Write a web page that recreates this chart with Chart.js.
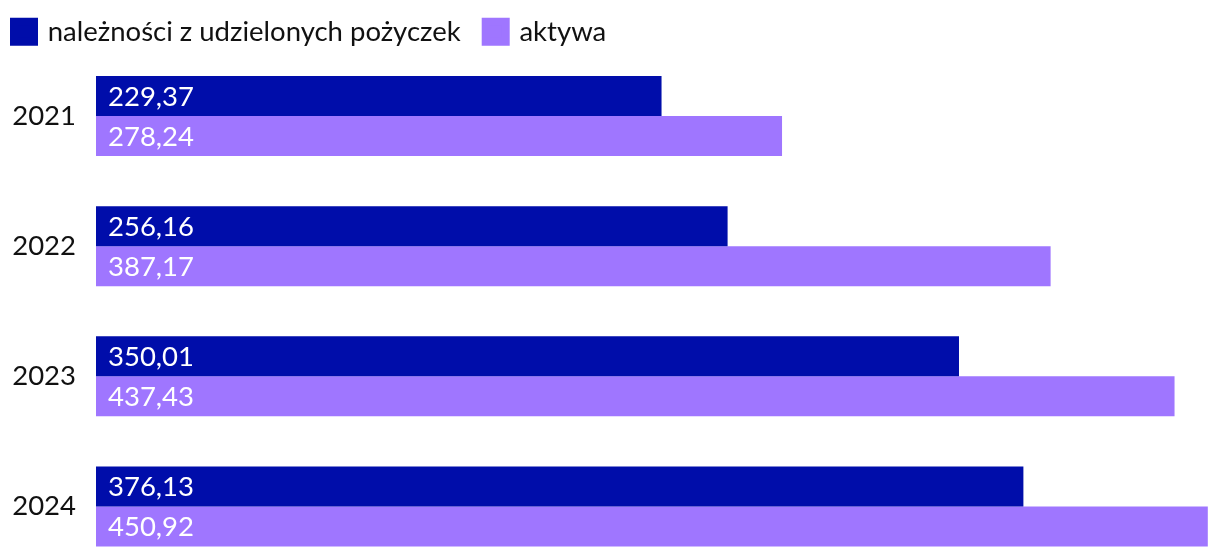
<!DOCTYPE html>
<html>
<head>
<meta charset="utf-8">
<script src="https://cdn.jsdelivr.net/npm/chart.js@4"></script>
<style>
html,body{margin:0;padding:0;background:#fff;overflow:hidden;width:1220px;height:558px;}
canvas{display:block;}
</style>
</head>
<body>
<canvas id="c" width="1220" height="608"></canvas>
<script>
const categories = ['2021', '2022', '2023', '2024'];
const seriesNames = ['należności z udzielonych pożyczek', 'aktywa'];
const loans = [229.37, 256.16, 350.01, 376.13];
const assets = [278.24, 387.17, 437.43, 450.92];
const colors = ['#000DAA', '#9F76FF'];

const FONT = 'Lato, "Open Sans", sans-serif';

const valueLabels = {
  id: 'valueLabels',
  afterDatasetsDraw(chart) {
    const ctx = chart.ctx;
    ctx.save();
    ctx.font = '27.5px ' + FONT;
    ctx.fillStyle = '#ffffff';
    ctx.textAlign = 'left';
    ctx.textBaseline = 'middle';
    chart.data.datasets.forEach((ds, di) => {
      const meta = chart.getDatasetMeta(di);
      meta.data.forEach((bar, i) => {
        const v = ds.data[i];
        const txt = v.toFixed(2).replace('.', ',');
        ctx.fillText(txt, bar.base + 12, bar.y + 1);
      });
    });
    ctx.restore();
  }
};

new Chart(document.getElementById('c'), {
  type: 'bar',
  data: {
    labels: categories,
    datasets: [
      { label: seriesNames[0], data: loans, backgroundColor: colors[0], categoryPercentage: 80/130, barPercentage: 1 },
      { label: seriesNames[1], data: assets, backgroundColor: colors[1], categoryPercentage: 80/130, barPercentage: 1 }
    ]
  },
  options: {
    indexAxis: 'y',
    responsive: false,
    animation: false,
    layout: { padding: { left: -11, right: 12, top: -7, bottom: 0 } },
    plugins: {
      tooltip: { enabled: false },
      legend: {
        position: 'top',
        align: 'start',
        maxHeight: 58,
        labels: {
          boxWidth: 20,
          boxHeight: 20,
          color: '#111',
          font: { family: FONT, size: 27.5 },
          padding: 25,
          generateLabels(chart) {
            const items = Chart.defaults.plugins.legend.labels.generateLabels(chart);
            items.forEach((it, i) => {
              it.fillStyle = colors[i];
              it.strokeStyle = colors[i];
              it.lineWidth = 8;
            });
            return items;
          }
        }
      }
    },
    scales: {
      x: { display: false, min: 0, max: 451 },
      y: {
        grid: { display: false, drawTicks: false },
        border: { display: false },
        ticks: { color: '#111', font: { family: FONT, size: 27.5 }, padding: 20 },
        afterFit(scale) { scale.width = 107; }
      }
    }
  },
  plugins: [valueLabels]
});
</script>
</body>
</html>
